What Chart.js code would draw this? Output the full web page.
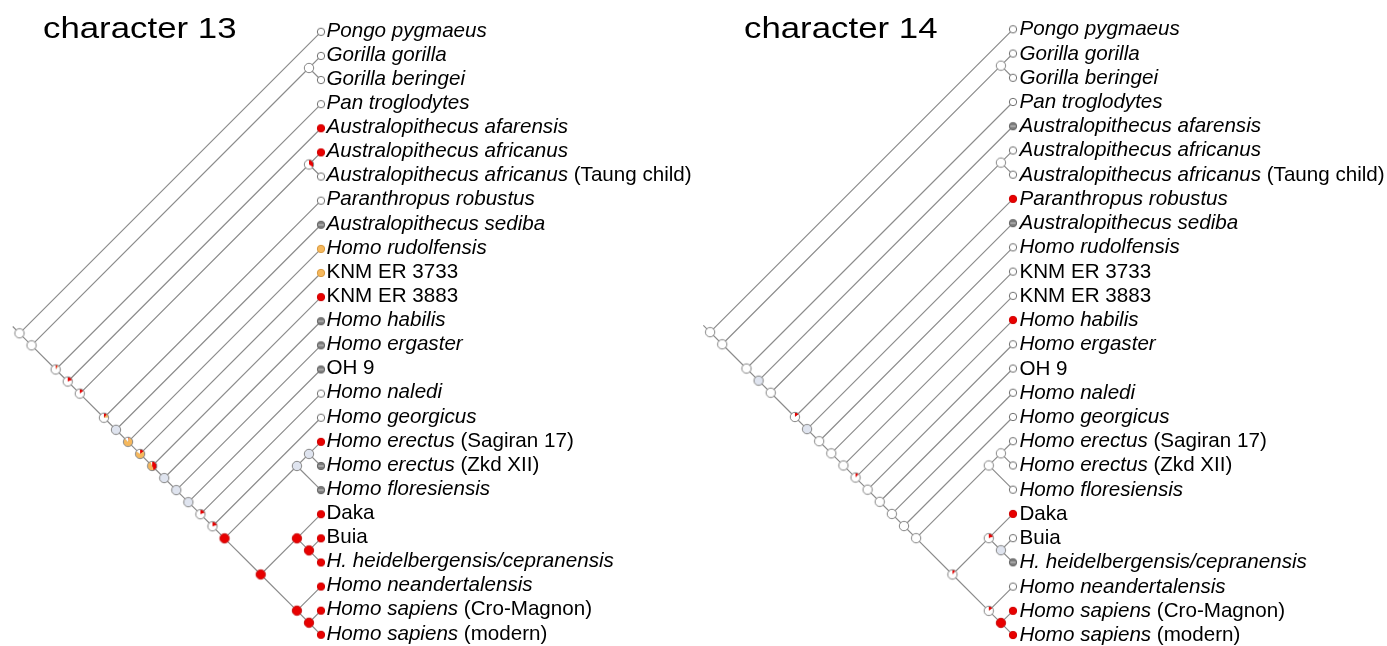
<!DOCTYPE html>
<html>
<head>
<meta charset="utf-8">
<script src="https://cdn.jsdelivr.net/npm/chart.js@4.4.1/dist/chart.umd.min.js"></script>
<style>
  html, body { margin: 0; padding: 0; background: #fff; }
  #wrap { display: flex; width: 1387px; height: 646px; }
  canvas { display: block; }
</style>
</head>
<body>
<div id="wrap">
  <canvas id="c13" width="693" height="646"></canvas>
  <canvas id="c14" width="694" height="646"></canvas>
</div>
<script>
// ---- tip names (italic part, roman part), top to bottom ----
const taxaItalic = [
  'Pongo pygmaeus', 'Gorilla gorilla', 'Gorilla beringei', 'Pan troglodytes',
  'Australopithecus afarensis', 'Australopithecus africanus', 'Australopithecus africanus ',
  'Paranthropus robustus', 'Australopithecus sediba', 'Homo rudolfensis',
  '', '', 'Homo habilis', 'Homo ergaster', '', 'Homo naledi', 'Homo georgicus',
  'Homo erectus ', 'Homo erectus ', 'Homo floresiensis', '', '',
  'H. heidelbergensis/cepranensis', 'Homo neandertalensis', 'Homo sapiens ', 'Homo sapiens '
];
const taxaRoman = [
  '', '', '', '', '', '', '(Taung child)', '', '', '',
  'KNM ER 3733', 'KNM ER 3883', '', '', 'OH 9', '', '',
  '(Sagiran 17)', '(Zkd XII)', '', 'Daka', 'Buia', '', '', '(Cro-Magnon)', '(modern)'
];

// ---- clades as [first tip, last tip] ----
const cladeSpans = [
  [0, 25], [1, 25], [1, 2], [3, 25], [4, 25], [5, 25], [5, 6], [7, 25], [8, 25],
  [9, 25], [10, 25], [11, 25], [12, 25], [13, 25], [14, 25], [15, 25], [16, 25],
  [17, 25], [17, 19], [17, 18], [20, 25], [20, 22], [21, 22], [23, 25], [24, 25]
];

// ---- tip states: w = absent, r = red state, o = orange state, q = unknown ----
const tipStates13 = ['w','w','w','w','r','r','w','w','q','o','o','r','q','q','q','w','w','r','q','q','r','r','r','r','r','r'];
const tipStates14 = ['w','w','w','w','q','w','w','r','q','w','w','w','r','w','w','w','w','w','w','w','r','w','q','w','r','r'];

// ---- ancestral state shares per clade: [red, orange, blue], rest white ----
const nodeShares13 = [
  [0, 0, 0], [0, 0, 0], [0, 0, 0], [0.07, 0.04, 0], [0.2, 0, 0], [0.15, 0, 0],
  [0.35, 0, 0], [0.12, 0.12, 0], [0, 0, 1], [0.03, 0.85, 0], [0.15, 0.7, 0],
  [0.45, 0.5, 0], [0, 0, 1], [0, 0, 1], [0, 0, 1], [0.2, 0, 0], [0.22, 0, 0],
  [1, 0, 0], [0, 0, 1], [0, 0, 1], [1, 0, 0], [1, 0, 0], [1, 0, 0], [1, 0, 0], [1, 0, 0]
];
const nodeShares14 = [
  [0, 0, 0], [0, 0, 0], [0, 0, 0], [0, 0, 0], [0, 0, 1], [0, 0, 0],
  [0, 0, 0], [0.15, 0, 0], [0, 0, 1], [0, 0, 0], [0, 0, 0],
  [0, 0, 0], [0.12, 0, 0], [0, 0, 0], [0, 0, 0], [0, 0, 0], [0, 0, 0],
  [0, 0, 0], [0, 0, 0], [0, 0, 0], [0.12, 0, 0], [0.2, 0, 0], [0, 0, 1], [0.15, 0, 0], [1, 0, 0]
];

const titles = ['character 13', 'character 14'];

// ---- colours ----
const RED = '#e80000', ORANGE = '#f6b85c', BLUE = '#dfe4ef', WHITE = '#ffffff';
const RIM = '#858585', BRANCH = '#8c8c8c';

// tree layout in tip units: tips at x = 0, clade node at x = -(span)/2
function cladePos(s) { return { x: -(s[1] - s[0]) / 2, y: (s[0] + s[1]) / 2 }; }
function tipPos(i) { return { x: 0, y: i }; }

function parentOf(first, last, selfIdx) {
  let best = -1, bestW = Infinity;
  cladeSpans.forEach((s, k) => {
    if (k === selfIdx) return;
    if (s[0] <= first && s[1] >= last && !(s[0] === first && s[1] === last)) {
      const w = s[1] - s[0];
      if (w < bestW) { bestW = w; best = k; }
    }
  });
  return best;
}

function branchData() {
  const pts = [];
  const gap = { x: null, y: null };
  cladeSpans.forEach((s, k) => {
    const p = parentOf(s[0], s[1], k);
    if (p < 0) {
      const c = cladePos(s);
      pts.push({ x: c.x - 0.28, y: c.y - 0.28 }, c, gap);
    } else {
      pts.push(cladePos(cladeSpans[p]), cladePos(s), gap);
    }
  });
  taxaItalic.forEach((_, i) => {
    const p = parentOf(i, i, -1);
    pts.push(cladePos(cladeSpans[p]), tipPos(i), gap);
  });
  return pts;
}

// small canvases used as point styles
function pieMark(shares, r) {
  const size = Math.ceil(2 * r + 4);
  const cv = document.createElement('canvas');
  cv.width = size; cv.height = size;
  const g = cv.getContext('2d');
  const c = size / 2;
  const parts = [[shares[0], RED], [shares[1], ORANGE], [shares[2], BLUE]];
  const rest = Math.max(0, 1 - shares[0] - shares[1] - shares[2]);
  parts.push([rest, WHITE]);
  let a = -Math.PI / 2;
  parts.forEach(([f, col]) => {
    if (f <= 0) return;
    const b = a + f * 2 * Math.PI;
    g.beginPath();
    g.moveTo(c, c);
    g.arc(c, c, r, a, b);
    g.closePath();
    g.fillStyle = col;
    g.fill();
    a = b;
  });
  g.beginPath();
  g.arc(c, c, r, 0, 2 * Math.PI);
  g.lineWidth = 1;
  g.strokeStyle = shares[0] >= 1 ? '#c81010' : RIM;
  g.stroke();
  return cv;
}

function tipMark(state, r) {
  const size = Math.ceil(2 * r + 4);
  const cv = document.createElement('canvas');
  cv.width = size; cv.height = size;
  const g = cv.getContext('2d');
  const c = size / 2;
  g.beginPath();
  g.arc(c, c, r, 0, 2 * Math.PI);
  g.lineWidth = 1;
  if (state === 'w') {
    g.fillStyle = WHITE; g.fill(); g.strokeStyle = '#707070'; g.stroke();
  } else if (state === 'r') {
    g.fillStyle = RED; g.fill(); g.strokeStyle = '#d00000'; g.stroke();
  } else if (state === 'o') {
    g.fillStyle = ORANGE; g.fill(); g.strokeStyle = '#d89a40'; g.stroke();
  } else {
    g.fillStyle = '#7c7c7c'; g.fill(); g.strokeStyle = '#666'; g.stroke();
    g.beginPath();
    g.moveTo(c - r + 1, c); g.lineTo(c + r - 1, c);
    g.strokeStyle = '#cfcfcf'; g.lineWidth = 1; g.stroke();
  }
  return cv;
}

// tip labels and panel title
const treeText = {
  id: 'treeText',
  afterDatasetsDraw(chart, args, opts) {
    const ctx = chart.ctx;
    const meta = chart.getDatasetMeta(2);
    ctx.save();
    ctx.fillStyle = '#000';
    ctx.textBaseline = 'alphabetic';
    meta.data.forEach((el, i) => {
      let x = el.x + opts.dx;
      const y = el.y + opts.dy;
      if (taxaItalic[i]) {
        ctx.font = 'italic 20.6px "Liberation Sans", Arial, sans-serif';
        ctx.fillText(taxaItalic[i], x, y);
        x += ctx.measureText(taxaItalic[i]).width;
      }
      if (taxaRoman[i]) {
        ctx.font = '20.6px "Liberation Sans", Arial, sans-serif';
        ctx.fillText(taxaRoman[i], x, y);
      }
    });
    ctx.translate(opts.titleX, opts.titleY);
    ctx.scale(1.18, 1);
    ctx.font = '29.5px "Liberation Sans", Arial, sans-serif';
    ctx.fillText(opts.title, 0, 0);
    ctx.restore();
  }
};

function makeTree(canvasId, title, tipStates, nodeShares, geo) {
  const W = document.getElementById(canvasId).width, H = 646;
  const nodes = cladeSpans.map(cladePos);
  const tips = taxaItalic.map((_, i) => tipPos(i));
  new Chart(document.getElementById(canvasId), {
    type: 'scatter',
    data: {
      datasets: [
        {
          label: 'branches', data: branchData(), showLine: true, spanGaps: false,
          borderColor: BRANCH, borderWidth: 1.2, pointRadius: 0, order: 3
        },
        {
          label: 'ancestors', data: nodes, order: 2,
          pointStyle: nodeShares.map(s => pieMark(s, 4.7)), pointRadius: 5
        },
        {
          label: 'tips', data: tips, order: 1,
          pointStyle: tipStates.map(s => tipMark(s, 3.7)), pointRadius: 4
        }
      ]
    },
    options: {
      responsive: false, animation: false, events: [],
      layout: { padding: 0, autoPadding: false },
      plugins: {
        legend: { display: false }, tooltip: { enabled: false },
        treeText: { title, dx: geo.dx, dy: geo.dy, titleX: geo.titleX, titleY: 38 }
      },
      scales: {
        x: { type: 'linear', display: false, min: -geo.tipX / geo.step, max: (W - geo.tipX) / geo.step },
        y: { type: 'linear', display: false, reverse: true, min: -geo.top / geo.step, max: (H - geo.top) / geo.step }
      }
    },
    plugins: [treeText]
  });
}

makeTree('c13', titles[0], tipStates13, nodeShares13, { tipX: 321, top: 31.8, step: 24.12, dx: 5.5, dy: 4.8, titleX: 43 });
makeTree('c14', titles[1], tipStates14, nodeShares14, { tipX: 320, top: 29.3, step: 24.23, dx: 6.5, dy: 6, titleX: 51 });
</script>
</body>
</html>
